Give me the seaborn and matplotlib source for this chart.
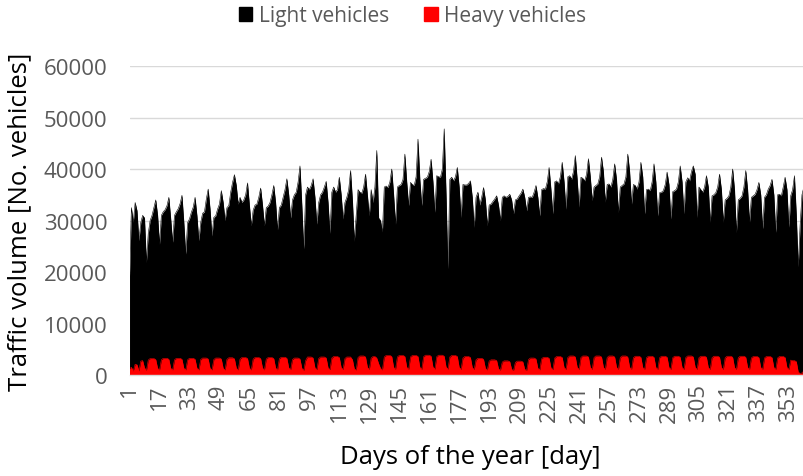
import numpy as np
import seaborn as sns
import matplotlib.pyplot as plt
from matplotlib.patches import Patch

sns.set_theme(style="whitegrid")
plt.rcParams['font.family'] = ['Open Sans', 'DejaVu Sans']

# daily traffic volumes (day 1 .. 365)
light_vehicles = [
    19300, 32500, 29700,
    33500, 31900, 26100, 29600, 31000, 30500, 21900,
    27500, 30000, 31000, 32500, 34000, 31000, 25400,
    31000, 31700, 32100, 32900, 34500, 30300, 25800,
    31000, 31700, 32300, 33300, 34900, 29600, 23500,
    29600, 30300, 31600, 32600, 34500, 30900, 26100,
    29600, 31400, 31700, 34200, 36100, 32200, 27000,
    30600, 30900, 32200, 33200, 35800, 33500, 30000,
    32500, 32900, 35500, 37400, 38900, 36800, 33200,
    34500, 33500, 34000, 35000, 37300, 33000, 29000,
    32000, 33000, 33200, 34500, 36300, 33000, 29000,
    32500, 32800, 33500, 35000, 36800, 33500, 28200,
    32500, 33000, 34500, 36000, 38100, 35000, 30500,
    34000, 35000, 35500, 37500, 40600, 33000, 24500,
    35000, 36500, 36000, 36800, 38100, 34500, 29300,
    33500, 35000, 35500, 36500, 37600, 33500, 27500,
    35500, 36500, 35500, 36000, 38400, 35000, 30300,
    33500, 34500, 36000, 39700, 34000, 26000, 31000,
    36000, 35500, 35300, 36500, 39000, 35000, 30900,
    36000, 33500, 36500, 43600, 30500, 30000, 27800,
    36500, 36700, 36400, 37500, 40000, 35000, 29300,
    36500, 36800, 37000, 38000, 42900, 37500, 32900,
    37400, 37000, 36800, 38500, 45800, 38000, 32900,
    38000, 38200, 38400, 39500, 41900, 37500, 31600,
    38700, 38500, 38400, 40000, 47800, 35000, 20600,
    38000, 38400, 37700, 38500, 40300, 36500, 30600,
    37000, 36900, 36900, 37200, 37700, 34500, 28700,
    34500, 35500, 33000, 34500, 36400, 34000, 29000,
    33000, 33200, 33700, 34200, 34800, 33000, 30000,
    34500, 34800, 34500, 34700, 35100, 34000, 31300,
    34000, 34200, 34800, 35300, 36100, 34500, 31900,
    34500, 34600, 34500, 35500, 36800, 34500, 30900,
    36000, 36200, 36100, 37500, 40300, 36000, 31300,
    37500, 37700, 37100, 38500, 41300, 37500, 32200,
    38500, 38700, 38000, 39500, 42600, 38000, 32600,
    38400, 38200, 37700, 39000, 42000, 38500, 33900,
    36500, 36800, 37100, 38500, 42300, 39500, 33600,
    37000, 37100, 36500, 38000, 41000, 38000, 31600,
    36500, 36800, 37100, 38500, 42900, 39500, 33200,
    37000, 36800, 36100, 37500, 41300, 38500, 31300,
    36000, 36100, 35800, 37500, 41000, 37500, 30900,
    35400, 35500, 35800, 37000, 39400, 37000, 30300,
    35600, 35800, 36100, 37500, 40600, 37500, 31300,
    37500, 38300, 37700, 39500, 40600, 39000, 30600,
    36500, 36000, 35500, 36500, 38700, 36500, 29700,
    34800, 35000, 35400, 36500, 39000, 36000, 29700,
    34000, 34300, 34800, 36500, 40000, 36000, 27700,
    34000, 34300, 34800, 36500, 39700, 36000, 29700,
    34500, 34800, 35100, 36000, 37400, 35000, 28400,
    34500, 35000, 36100, 36800, 38000, 35000, 27700,
    35000, 35100, 34800, 36500, 38400, 36000, 28700,
    34800, 36000, 38700, 31000, 21000, 29000, 35000,
    36500, 36000, 36500, 37000, 38000,
]

heavy_vehicles = [
    1200, 1500, 800,
    2100, 2000, 800, 2700, 2800, 1400, 900,
    2900, 3200, 3200, 3200, 3000, 1300, 1000,
    2950, 3250, 3250, 3250, 3050, 1300, 1000,
    2950, 3250, 3250, 3250, 3050, 1300, 1000,
    2950, 3250, 3250, 3250, 3050, 1300, 1000,
    3000, 3300, 3300, 3300, 3100, 1300, 1000,
    3000, 3300, 3300, 3300, 3100, 1300, 1000,
    3050, 3350, 3350, 3350, 3150, 1350, 1000,
    3100, 3400, 3400, 3400, 3200, 1350, 1000,
    3100, 3400, 3400, 3400, 3200, 1350, 1000,
    3100, 3400, 3400, 3400, 3200, 1350, 1000,
    3150, 3450, 3450, 3450, 3250, 1400, 1050,
    3000, 3300, 3300, 3300, 3100, 1300, 900,
    2800, 3500, 3500, 3500, 3300, 1400, 1050,
    3200, 3500, 3500, 3500, 3300, 1400, 1050,
    3300, 3600, 3600, 3600, 3400, 1450, 1100,
    3200, 3500, 3500, 3500, 3000, 1200, 1000,
    3400, 3700, 3700, 3700, 3500, 1500, 1100,
    3300, 3600, 3600, 3300, 2200, 1300, 1000,
    3500, 3800, 3800, 3800, 3600, 1500, 1100,
    3500, 3800, 3800, 3800, 3600, 1500, 1100,
    3500, 3800, 3800, 3800, 3600, 1500, 1100,
    3550, 3850, 3850, 3850, 3650, 1550, 1150,
    3550, 3850, 3850, 3850, 3650, 1550, 1150,
    3500, 3800, 3800, 3800, 3600, 1500, 1100,
    3300, 3600, 3600, 3600, 3400, 1450, 1100,
    2950, 3250, 3250, 3250, 3050, 1300, 1000,
    2700, 2950, 2950, 2950, 2800, 1200, 950,
    2500, 2750, 2750, 2750, 2600, 1100, 900,
    2450, 2700, 2700, 2700, 2550, 1100, 900,
    3000, 3300, 3300, 3300, 3100, 1300, 1000,
    3150, 3450, 3450, 3450, 3250, 1400, 1050,
    3300, 3600, 3600, 3600, 3400, 1450, 1100,
    3400, 3700, 3700, 3700, 3500, 1500, 1100,
    3400, 3700, 3700, 3700, 3500, 1500, 1100,
    3400, 3700, 3700, 3700, 3500, 1500, 1100,
    3400, 3700, 3700, 3700, 3500, 1500, 1100,
    3400, 3700, 3700, 3700, 3500, 1500, 1100,
    3350, 3650, 3650, 3650, 3450, 1450, 1100,
    3350, 3650, 3650, 3650, 3450, 1450, 1100,
    3350, 3650, 3650, 3650, 3450, 1450, 1100,
    3350, 3650, 3650, 3650, 3450, 1450, 1100,
    3400, 3700, 3700, 3700, 3500, 1500, 1100,
    3350, 3650, 3650, 3650, 3450, 1450, 1100,
    3350, 3650, 3650, 3650, 3450, 1450, 1100,
    3350, 3650, 3650, 3650, 3450, 1450, 1100,
    3350, 3650, 3650, 3650, 3450, 1450, 1100,
    3300, 3600, 3600, 3600, 3400, 1450, 1100,
    3300, 3600, 3600, 3600, 3400, 1450, 1100,
    3300, 3600, 3600, 3600, 3400, 1450, 1100,
    2900, 2800, 2800, 2600, 600, 300, 400,
    800, 2000, 2500, 2500, 2400,
]

days = np.arange(1, len(light_vehicles) + 1)
day_ticks = list(range(1, 366, 16))

fig = plt.figure(figsize=(8.04, 4.77), dpi=100)
# plot area runs past the right edge, as in the source image
ax = fig.add_axes([0.1611, 0.2117, 0.848, 0.6478])

sns.lineplot(x=days, y=light_vehicles, color="black", linewidth=0.4, ax=ax)
ax.fill_between(days, 0, light_vehicles, color="black", linewidth=0)
sns.lineplot(x=days, y=heavy_vehicles, color="#FF0000", linewidth=0.4, ax=ax)
ax.fill_between(days, 0, heavy_vehicles, color="#FF0000", linewidth=0)

ax.set_xlim(1, 365)
ax.set_ylim(0, 60000)
ax.set_yticks(range(0, 60001, 10000))
ax.set_xticks(day_ticks)
ax.set_xticklabels([str(d) for d in day_ticks], rotation=90)

ax.grid(axis="y", color="#D9D9D9", linewidth=1)
ax.grid(axis="x", visible=False)
for s in ["top", "right", "left"]:
    ax.spines[s].set_visible(False)
ax.spines["bottom"].set_color("#D9D9D9")
ax.spines["bottom"].set_linewidth(1)
ax.set_axisbelow(True)

ax.tick_params(axis="y", labelsize=16, colors="#595959", pad=16, length=0)
ax.tick_params(axis="x", labelsize=16, colors="#595959", pad=6, length=0)

ax.set_xlabel("Days of the year [day]", fontsize=18.5, color="black", labelpad=16)
ax.set_ylabel("Traffic volume [No. vehicles]", fontsize=18.5, color="black", labelpad=8)

handles = [Patch(color="black", label="Light vehicles"),
           Patch(color="#FF0000", label="Heavy vehicles")]
fig.legend(handles=handles, loc="upper center", bbox_to_anchor=(0.513, 1.027),
           ncol=2, frameon=False, fontsize=15, handlelength=0.65, handleheight=0.65,
           handletextpad=0.3, columnspacing=1.7, labelcolor="#595959")

fig.savefig("out.png", dpi=100)
